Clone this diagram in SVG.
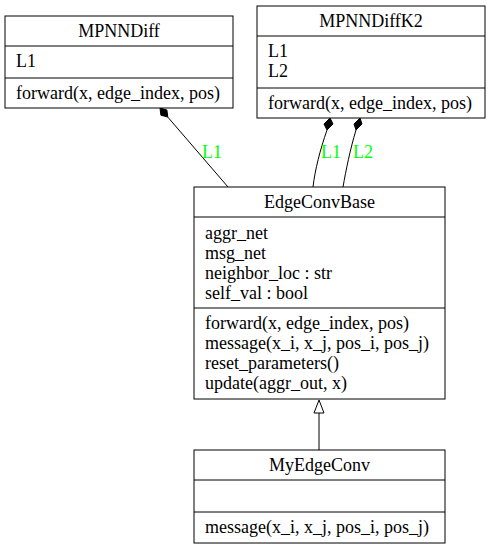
<svg xmlns="http://www.w3.org/2000/svg" width="491" height="549" viewBox="0 0 491 549" font-family="'Liberation Serif', 'Times New Roman', Times, serif" font-size="18">
<style>
.box{fill:#fff;stroke:#000;stroke-width:1}
.sep{stroke:#000;stroke-width:1}
text{font-family:'Liberation Serif','Times New Roman',Times,serif;font-size:18px;fill:#000}
.c{text-anchor:middle}
.lbl{fill:#00ff00}
.edge{fill:none;stroke:#000;stroke-width:1}
.dia{fill:#000;stroke:#000;stroke-width:1}
.tri{fill:#fff;stroke:#000;stroke-width:1}
</style>
<rect width="491" height="549" fill="#fff"/>
<g id="connectors">
  <path class="edge" d="M167.8,117.1 L228,187"/>
  <polygon class="dia" points="160,108 160.9,115.2 167.8,117.1 166.9,110"/>
  <text class="lbl" x="202" y="158">L1</text>
  <path class="edge" d="M327,130 C320,150 315,170 313,187"/>
  <polygon class="dia" points="330,118 324,124 327,130 333,124"/>
  <text class="lbl" x="321" y="158">L1</text>
  <path class="edge" d="M356,130 C350,150 346,170 343,187"/>
  <polygon class="dia" points="360,118 354,124 356,130 362,124"/>
  <text class="lbl" x="353" y="158">L2</text>
  <path class="edge" d="M319,450 L319,413"/>
  <polygon class="tri" points="319,400 314,413 324,413"/>
</g>
<g id="MPNNDiff">
  <rect class="box" x="5" y="16" width="228" height="92"/>
  <line class="sep" x1="5" y1="46" x2="233" y2="46"/>
  <line class="sep" x1="5" y1="78" x2="233" y2="78"/>
  <text class="c" x="119" y="37">MPNNDiff</text>
  <text x="16" y="67">L1</text>
  <text x="16" y="99">forward(x, edge_index, pos)</text>
</g>
<g id="MPNNDiffK2">
  <rect class="box" x="257" y="6" width="228" height="112"/>
  <line class="sep" x1="257" y1="36" x2="485" y2="36"/>
  <line class="sep" x1="257" y1="88" x2="485" y2="88"/>
  <text class="c" x="371" y="27">MPNNDiffK2</text>
  <text x="268" y="57">L1</text>
  <text x="268" y="77">L2</text>
  <text x="268" y="109">forward(x, edge_index, pos)</text>
</g>
<g id="EdgeConvBase">
  <rect class="box" x="194" y="187" width="251" height="212"/>
  <line class="sep" x1="194" y1="217" x2="445" y2="217"/>
  <line class="sep" x1="194" y1="308" x2="445" y2="308"/>
  <text class="c" x="319.5" y="208">EdgeConvBase</text>
  <text x="205" y="239">aggr_net</text>
  <text x="205" y="259">msg_net</text>
  <text x="205" y="279">neighbor_loc : str</text>
  <text x="205" y="299">self_val : bool</text>
  <text x="205" y="329">forward(x, edge_index, pos)</text>
  <text x="205" y="349">message(x_i, x_j, pos_i, pos_j)</text>
  <text x="205" y="369">reset_parameters()</text>
  <text x="205" y="389">update(aggr_out, x)</text>
</g>
<g id="MyEdgeConv">
  <rect class="box" x="194" y="450" width="251" height="93"/>
  <line class="sep" x1="194" y1="480" x2="445" y2="480"/>
  <line class="sep" x1="194" y1="512" x2="445" y2="512"/>
  <text class="c" x="319.5" y="471">MyEdgeConv</text>
  <text x="205" y="533">message(x_i, x_j, pos_i, pos_j)</text>
</g>
</svg>
